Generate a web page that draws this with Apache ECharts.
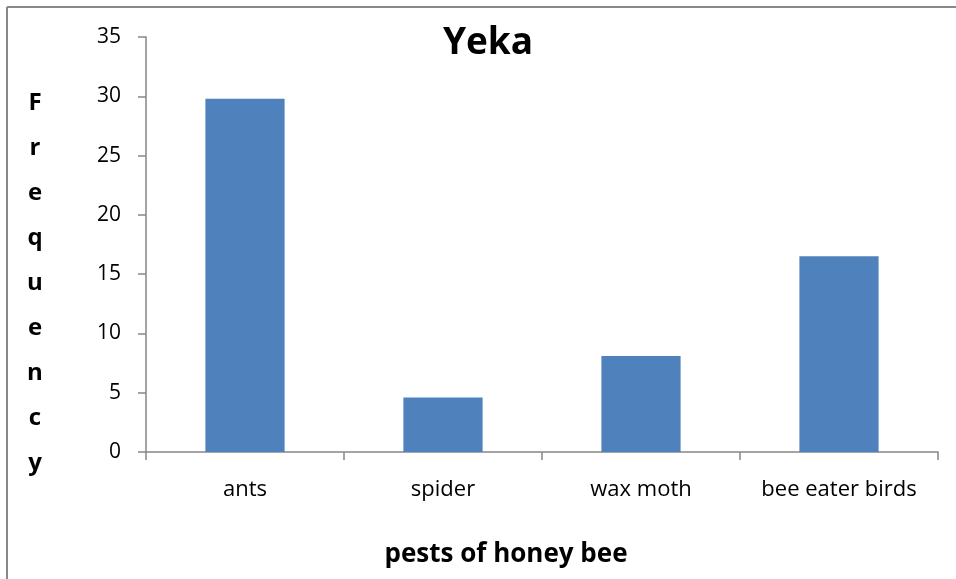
<!DOCTYPE html>
<html>
<head>
<meta charset="utf-8">
<script src="https://cdn.jsdelivr.net/npm/echarts@6/dist/echarts.min.js"></script>
<style>
html,body{margin:0;padding:0;background:#fff;}
#chart{width:956px;height:579px;}
</style>
</head>
<body>
<div id="chart"></div>
<script>
var categories = ['ants', 'spider', 'wax moth', 'bee eater birds'];
var frequency = [29.8, 4.6, 8.1, 16.5];
var yTicks = { min: 0, max: 35, interval: 5 };
var titleText = 'Yeka';
var xAxisTitle = 'pests of honey bee';
var yAxisTitle = 'Frequency';

var chart = echarts.init(document.getElementById('chart'), null, { renderer: 'canvas' });
var font = '"Open Sans", "Noto Sans", sans-serif';
chart.setOption({
  animation: false,
  backgroundColor: '#fff',
  title: {
    text: titleText,
    left: 483, top: 20, textAlign: 'center',
    textStyle: { fontFamily: font, fontWeight: 'bold', fontSize: 37, color: '#000' }
  },
  grid: { left: 146, right: 18, top: 37, bottom: 127, containLabel: false },
  xAxis: {
    type: 'category',
    data: categories,
    boundaryGap: true,
    axisLine: { lineStyle: { color: '#868686', width: 1.5 } },
    axisTick: { show: true, interval: 0, length: 8, alignWithLabel: false, lineStyle: { color: '#868686', width: 1.5 } },
    axisLabel: { interval: 0, hideOverlap: false, fontFamily: font, fontSize: 22, color: '#000', margin: 27 },
    splitLine: { show: false }
  },
  yAxis: {
    type: 'value',
    min: yTicks.min, max: yTicks.max, interval: yTicks.interval,
    axisLine: { show: true, lineStyle: { color: '#868686', width: 1.5 } },
    axisTick: { show: true, length: 8, lineStyle: { color: '#868686', width: 1.5 } },
    axisLabel: { fontFamily: font, fontSize: 21, color: '#000', margin: 25 },
    splitLine: { show: false }
  },
  graphic: [
    { type: 'line', shape: { x1: 7, y1: 7, x2: 956, y2: 7 }, style: { stroke: '#888', lineWidth: 2 } },
    { type: 'line', shape: { x1: 7, y1: 7, x2: 7, y2: 579 }, style: { stroke: '#888', lineWidth: 2 } },
    { type: 'text', x: 35, y: 81, style: {
        text: yAxisTitle.split('').join('\n'),
        font: 'bold 24px ' + font, fill: '#000',
        textAlign: 'center', textVerticalAlign: 'top', lineHeight: 45
      } },
    { type: 'text', x: 506, y: 555, style: {
        text: xAxisTitle,
        font: 'bold 26px ' + font, fill: '#000',
        textAlign: 'center', textVerticalAlign: 'middle'
      } }
  ],
  series: [{
    type: 'bar',
    data: frequency,
    barWidth: '40%',
    itemStyle: { color: '#4F81BD' }
  }]
});
</script>
</body>
</html>
